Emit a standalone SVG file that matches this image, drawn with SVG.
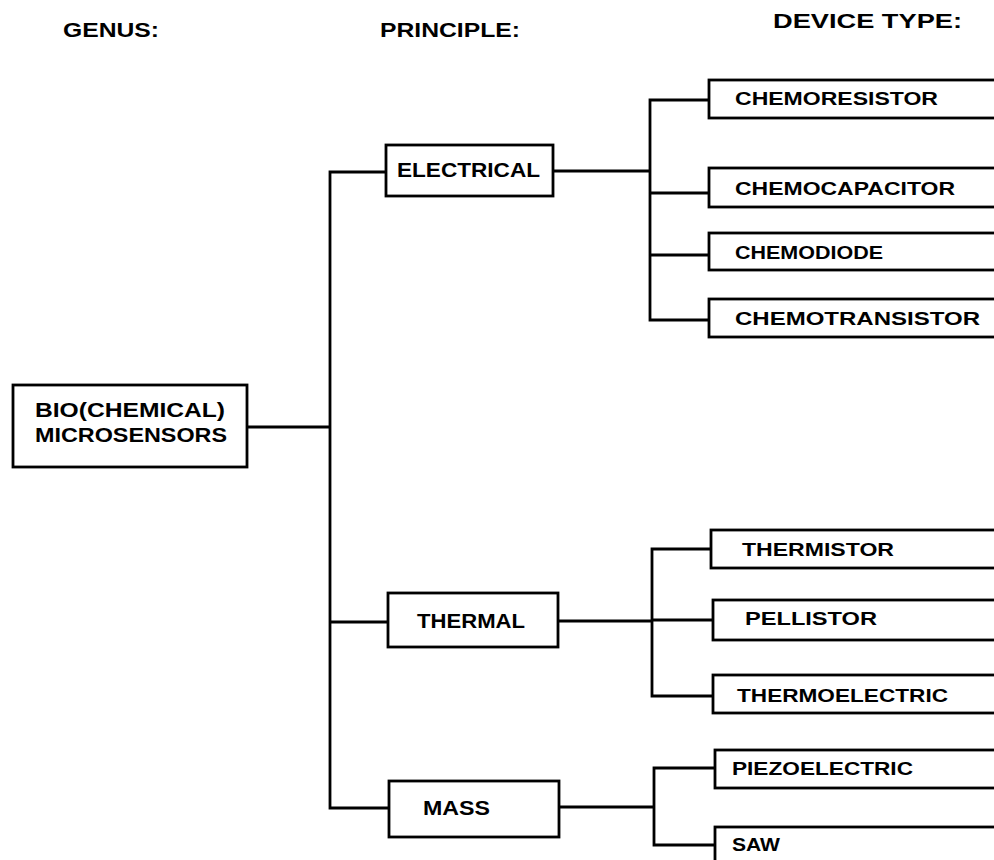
<svg xmlns="http://www.w3.org/2000/svg" width="994" height="860" viewBox="0 0 994 860">
<style>
.bx{fill:#fff;stroke:#000;stroke-width:2.8}
.ln{fill:none;stroke:#000;stroke-width:2.8;stroke-linecap:square}
text{font-family:"Liberation Sans",Arial,Helvetica,sans-serif;font-weight:bold;fill:#000}
.h{font-size:20px}
.p{font-size:21px}
.d{font-size:19px}
.r{font-size:21px}
</style>
<rect width="994" height="860" fill="#fff"/>
<g id="headers">
<text class="h" x="63" y="37" textLength="96" lengthAdjust="spacingAndGlyphs">GENUS:</text>
<text class="h" x="380" y="37" textLength="140" lengthAdjust="spacingAndGlyphs">PRINCIPLE:</text>
<text class="h" x="773" y="28" textLength="189" lengthAdjust="spacingAndGlyphs">DEVICE TYPE:</text>
</g>
<g id="connectors">
<path class="ln" d="M247 427H330M330 172V808M330 172H386M330 622H388M330 808H389"/>
<path class="ln" d="M553 171H650M650 100V320M650 100H709M650 193H709M650 255H709M650 320H709"/>
<path class="ln" d="M558 621H652M652 549V696M652 549H711M652 620H713M652 696H713"/>
<path class="ln" d="M559 807H654M654 768V845M654 768H715M654 845H715"/>
</g>
<g id="root">
<rect class="bx" x="13" y="385" width="234" height="82"/>
<text class="r" x="35" y="417" textLength="190" lengthAdjust="spacingAndGlyphs">BIO(CHEMICAL)</text>
<text class="r" x="35" y="442" textLength="192" lengthAdjust="spacingAndGlyphs">MICROSENSORS</text>
</g>
<g id="electrical">
<rect class="bx" x="386" y="145" width="167" height="51"/>
<text class="p" x="397" y="177" textLength="143" lengthAdjust="spacingAndGlyphs">ELECTRICAL</text>
</g>
<g id="thermal">
<rect class="bx" x="388" y="593" width="170" height="54"/>
<text class="p" x="417" y="628" textLength="108" lengthAdjust="spacingAndGlyphs">THERMAL</text>
</g>
<g id="mass">
<rect class="bx" x="389" y="781" width="170" height="56"/>
<text class="p" x="423" y="815" textLength="67" lengthAdjust="spacingAndGlyphs">MASS</text>
</g>
<g id="chemoresistor">
<rect class="bx" x="709" y="80" width="300" height="38"/>
<text class="d" x="735" y="105" textLength="203" lengthAdjust="spacingAndGlyphs">CHEMORESISTOR</text>
</g>
<g id="chemocapacitor">
<rect class="bx" x="709" y="168" width="300" height="39"/>
<text class="d" x="735" y="195" textLength="220" lengthAdjust="spacingAndGlyphs">CHEMOCAPACITOR</text>
</g>
<g id="chemodiode">
<rect class="bx" x="709" y="233" width="300" height="37"/>
<text class="d" x="735" y="259" textLength="148" lengthAdjust="spacingAndGlyphs">CHEMODIODE</text>
</g>
<g id="chemotransistor">
<rect class="bx" x="709" y="299" width="300" height="38"/>
<text class="d" x="735" y="325" textLength="245" lengthAdjust="spacingAndGlyphs">CHEMOTRANSISTOR</text>
</g>
<g id="thermistor">
<rect class="bx" x="711" y="530" width="300" height="38"/>
<text class="d" x="742" y="556" textLength="152" lengthAdjust="spacingAndGlyphs">THERMISTOR</text>
</g>
<g id="pellistor">
<rect class="bx" x="713" y="600" width="300" height="40"/>
<text class="d" x="745" y="625" textLength="132" lengthAdjust="spacingAndGlyphs">PELLISTOR</text>
</g>
<g id="thermoelectric">
<rect class="bx" x="713" y="675" width="300" height="38"/>
<text class="d" x="737" y="702" textLength="211" lengthAdjust="spacingAndGlyphs">THERMOELECTRIC</text>
</g>
<g id="piezoelectric">
<rect class="bx" x="715" y="750" width="300" height="38"/>
<text class="d" x="732" y="775" textLength="181" lengthAdjust="spacingAndGlyphs">PIEZOELECTRIC</text>
</g>
<g id="saw">
<rect class="bx" x="715" y="827" width="300" height="50"/>
<text class="d" x="732" y="851" textLength="48" lengthAdjust="spacingAndGlyphs">SAW</text>
</g>
</svg>
